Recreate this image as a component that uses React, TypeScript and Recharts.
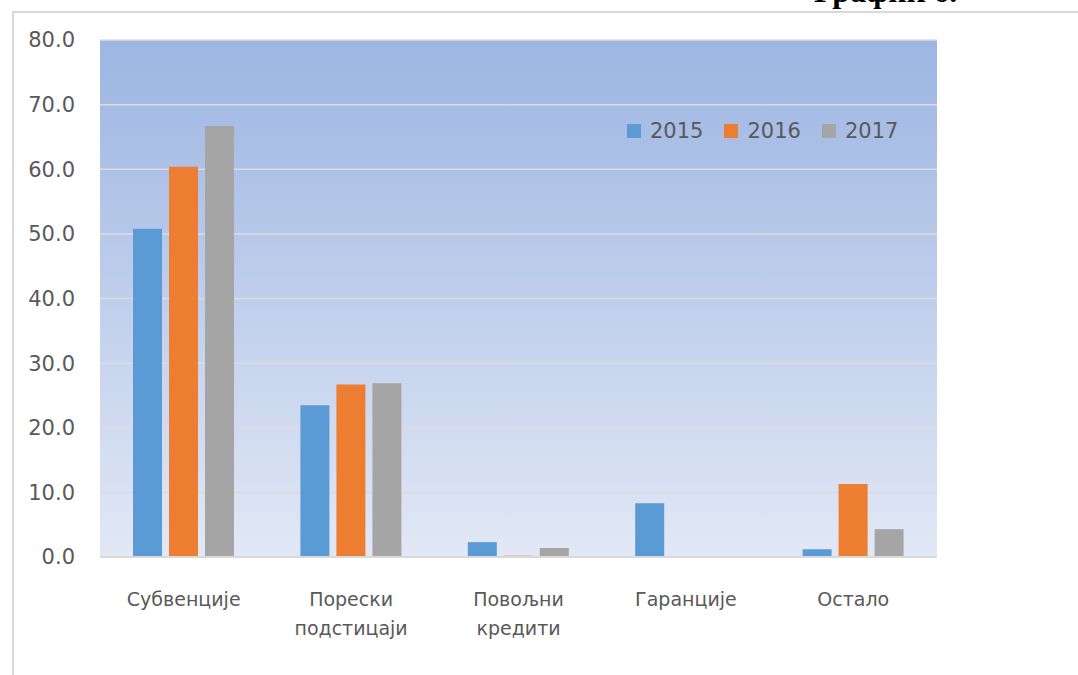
import React from 'react';
import { BarChart, Bar, XAxis, YAxis, CartesianGrid } from 'recharts';

const categories = ['Субвенције', 'Порески\nподстицаји', 'Повољни\nкредити', 'Гаранције', 'Остало'];
const series2015 = [50.8, 23.5, 2.3, 8.3, 1.2];
const series2016 = [60.4, 26.7, 0.2, 0, 11.3];
const series2017 = [66.7, 26.9, 1.4, 0, 4.3];
const yTicks = [0, 10, 20, 30, 40, 50, 60, 70, 80];
const seriesNames = ['2015', '2016', '2017'];
const seriesColors = ['#5B9BD5', '#ED7D31', '#A5A5A5'];

const data = categories.map((c, i) => ({
  name: c,
  '2015': series2015[i],
  '2016': series2016[i],
  '2017': series2017[i],
}));

const FONT = "'DejaVu Sans', sans-serif";

const XTick = (props: any) => {
  const { x, y, payload } = props;
  const lines = String(payload.value).split('\n');
  return (
    <text x={x} y={y} textAnchor="middle" fill="#595959" fontFamily={FONT} fontSize={19}>
      {lines.map((l, i) => (
        <tspan key={i} x={x} dy={i === 0 ? 41 : 29}>{l}</tspan>
      ))}
    </text>
  );
};

export default function App() {
  return (
    <div style={{ position: 'fixed', left: 0, top: 0, width: 1078, height: 675, overflow: 'hidden', background: '#fff' }}>
      <div style={{ position: 'absolute', left: 12, top: 11, width: 1200, height: 800, borderLeft: '2px solid #d9d9d9', borderTop: '2px solid #d9d9d9' }} />
      <div style={{ position: 'absolute', left: 814, top: -25, fontFamily: "'Liberation Serif', serif", fontWeight: 'bold', fontSize: 32, lineHeight: '32px', color: '#000', whiteSpace: 'nowrap' }}>
        График 6.
      </div>
      <div style={{ position: 'absolute', left: 0, top: 0 }}>
        <BarChart
          width={1078}
          height={675}
          data={data}
          margin={{ top: 40, right: 141, left: 0, bottom: 58 }}
          barSize={29}
          barGap={7}
        >
          <defs>
            <linearGradient id="bgGrad" x1="0" y1="0" x2="0" y2="1">
              <stop offset="0%" stopColor="#9cb5e2" />
              <stop offset="100%" stopColor="#e2e8f5" />
            </linearGradient>
          </defs>
          <CartesianGrid vertical={false} fill="url(#bgGrad)" stroke="#dcdcdc" strokeWidth={1.5} />
          <XAxis
            dataKey="name"
            height={60}
            axisLine={{ stroke: '#d9d9d9', strokeWidth: 2 }}
            tickLine={false}
            tick={<XTick />}
            interval={0}
          />
          <YAxis
            width={100}
            domain={[0, 80]}
            ticks={yTicks}
            interval={0}
            axisLine={false}
            tickLine={false}
            tickSize={0}
            tickMargin={25}
            tickFormatter={(v: number) => v.toFixed(1)}
            tick={{ fill: '#595959', fontFamily: FONT, fontSize: 21 }}
          />
          {seriesNames.map((s, i) => (
            <Bar key={s} dataKey={s} fill={seriesColors[i]} isAnimationActive={false} />
          ))}
        </BarChart>
      </div>
      <div style={{ position: 'absolute', left: 627, top: 119, display: 'flex', alignItems: 'center', fontFamily: FONT, fontSize: 21, color: '#595959' }}>
        {seriesNames.map((s, i) => (
          <div key={s} style={{ display: 'flex', alignItems: 'center', marginRight: i < 2 ? 21 : 0 }}>
            <div style={{ width: 14, height: 14, background: seriesColors[i], marginRight: 9 }} />
            <span>{s}</span>
          </div>
        ))}
      </div>
    </div>
  );
}
